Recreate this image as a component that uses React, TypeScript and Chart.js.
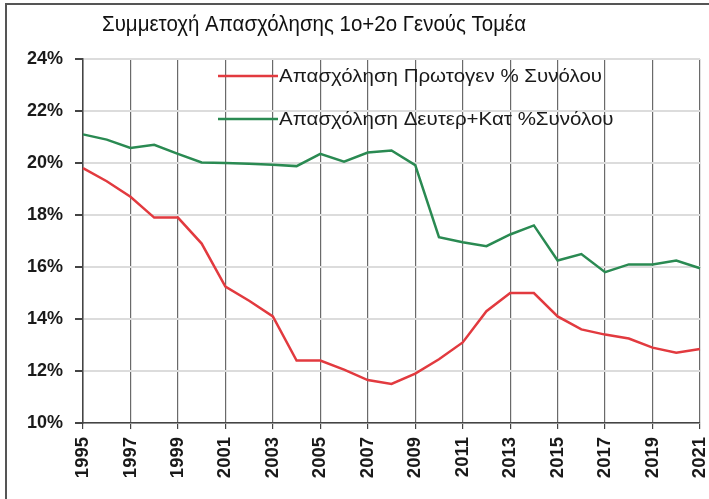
import React, { useEffect, useRef } from "react";
import { Chart, registerables } from "chart.js";

Chart.register(...registerables);

const years: string[] = [
  "1995", "1996", "1997", "1998", "1999", "2000", "2001", "2002", "2003",
  "2004", "2005", "2006", "2007", "2008", "2009", "2010", "2011", "2012",
  "2013", "2014", "2015", "2016", "2017", "2018", "2019", "2020", "2021",
];

const primaryShare: number[] = [
  19.8, 19.3, 18.7, 17.9, 17.9, 16.9, 15.25, 14.7, 14.1,
  12.4, 12.4, 12.05, 11.65, 11.5, 11.9, 12.45, 13.1, 14.3,
  15.0, 15.0, 14.1, 13.6, 13.4, 13.25, 12.9, 12.7, 12.85,
];

const secondaryTertiaryShare: number[] = [
  21.1, 20.9, 20.58, 20.7, 20.35, 20.02, 20.0, 19.97, 19.93,
  19.88, 20.35, 20.05, 20.4, 20.48, 19.92, 17.15, 16.95, 16.8,
  17.25, 17.6, 16.25, 16.5, 15.8, 16.1, 16.1, 16.25, 15.95,
];

const yTicks: number[] = [10, 12, 14, 16, 18, 20, 22, 24];

const titleText = "Συμμετοχή Απασχόλησης 1ο+2ο Γενούς Τομέα";
const seriesNames: string[] = [
  "Απασχόληση Πρωτογεν % Συνόλου",
  "Απασχόληση Δευτερ+Κατ %Συνόλου",
];
const seriesColors: string[] = ["#e23a3f", "#2a8a52"];

const decorPlugin = {
  id: "decor",
  afterDraw(chart: any) {
    const ctx = chart.ctx as CanvasRenderingContext2D;
    ctx.save();
    // frame
    ctx.strokeStyle = "#555";
    ctx.lineWidth = 2;
    ctx.beginPath();
    ctx.moveTo(6, 499);
    ctx.lineTo(6, 4);
    ctx.lineTo(709, 4);
    ctx.stroke();
    // title (condensed look)
    ctx.fillStyle = "#111";
    ctx.font = "22px 'Liberation Sans', Arial, sans-serif";
    ctx.textBaseline = "middle";
    ctx.textAlign = "left";
    const tw = ctx.measureText(titleText).width;
    const sx = 424 / tw;
    ctx.save();
    ctx.translate(102, 25);
    ctx.scale(sx, 1);
    ctx.fillText(titleText, 0, 0);
    ctx.restore();
    // legend (slightly widened glyphs)
    const rows = [76, 119];
    ctx.font = "19px 'Liberation Sans', Arial, sans-serif";
    const lw = ctx.measureText(seriesNames[0]).width;
    const lsx = 323 / lw;
    seriesNames.forEach((name, i) => {
      const y = rows[i];
      ctx.strokeStyle = seriesColors[i];
      ctx.lineWidth = 2.5;
      ctx.beginPath();
      ctx.moveTo(218, y);
      ctx.lineTo(278, y);
      ctx.stroke();
      ctx.fillStyle = "#1a1a1a";
      ctx.save();
      ctx.translate(279, y + 1);
      ctx.scale(lsx, 1);
      ctx.fillText(name, 0, 0);
      ctx.restore();
    });
    ctx.restore();
  },
};

export default function App() {
  const canvasRef = useRef<HTMLCanvasElement | null>(null);

  useEffect(() => {
    document.body.style.margin = "0";
    const canvas = canvasRef.current;
    if (!canvas) return;
    const chart = new Chart(canvas, {
      type: "line",
      data: {
        labels: years,
        datasets: [
          {
            label: seriesNames[0],
            data: primaryShare,
            borderColor: seriesColors[0],
            backgroundColor: seriesColors[0],
            borderWidth: 2.5,
            pointRadius: 0,
            tension: 0,
          },
          {
            label: seriesNames[1],
            data: secondaryTertiaryShare,
            borderColor: seriesColors[1],
            backgroundColor: seriesColors[1],
            borderWidth: 2.5,
            pointRadius: 0,
            tension: 0,
          },
        ],
      },
      options: {
        responsive: false,
        animation: false,
        devicePixelRatio: 1,
        layout: { padding: { top: 59, left: 6, right: 9, bottom: 0 } },
        plugins: {
          legend: { display: false },
          title: { display: false },
          tooltip: { enabled: false },
        },
        scales: {
          x: {
            type: "category",
            offset: false,
            afterFit: (scale: any) => {
              scale.height = 76;
              scale.paddingLeft = 0;
              scale.paddingRight = 0;
            },
            border: { color: "#444", width: 1.5 },
            grid: {
              color: (c: any) => (c.index % 2 === 0 ? "#6a6a6a" : "rgba(0,0,0,0)"),
              tickColor: (c: any) => (c.index % 2 === 0 ? "#444" : "rgba(0,0,0,0)"),
              lineWidth: 1.2,
              tickLength: 6,
            },
            ticks: {
              autoSkip: false,
              minRotation: 90,
              maxRotation: 90,
              padding: 8,
              color: "#1a1a1a",
              font: { family: "'Liberation Sans', Arial, sans-serif", size: 18.5, weight: "bold" },
              callback: (_v: any, i: number) => (i % 2 === 0 ? years[i] : ""),
            },
          },
          y: {
            min: yTicks[0],
            max: yTicks[yTicks.length - 1],
            afterFit: (scale: any) => {
              scale.width = 77;
              scale.paddingTop = 0;
              scale.paddingBottom = 0;
            },
            afterBuildTicks: (scale: any) => {
              scale.ticks = yTicks.map((v) => ({ value: v }));
            },
            border: { color: "#444", width: 1.5 },
            grid: {
              color: "#dcdcdc",
              tickColor: "#444",
              lineWidth: 2,
              tickLength: 8,
            },
            ticks: {
              padding: 12,
              color: "#1a1a1a",
              font: { family: "'Liberation Sans', Arial, sans-serif", size: 18, weight: "bold" },
              callback: (v: any) => `${v}%`,
            },
          },
        },
      },
      plugins: [decorPlugin],
    });
    return () => chart.destroy();
  }, []);

  return (
    <div style={{ position: "absolute", left: 0, top: 0, width: 709, height: 499, background: "#fff" }}>
      <canvas ref={canvasRef} width={709} height={499} />
    </div>
  );
}
